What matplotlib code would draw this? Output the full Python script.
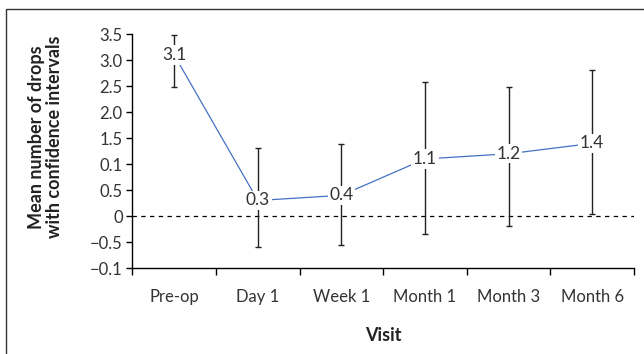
import matplotlib
matplotlib.use("Agg")
import matplotlib.pyplot as plt
from matplotlib.patches import Rectangle

plt.rcParams['font.family'] = ['Lato', 'DejaVu Sans']

visits = ["Pre-op", "Day 1", "Week 1", "Month 1", "Month 3", "Month 6"]
mean_drops = [3.1, 0.3, 0.4, 1.1, 1.2, 1.4]
ci_lower = [2.49, -0.60, -0.55, -0.34, -0.19, 0.04]
ci_upper = [3.49, 1.31, 1.39, 2.58, 2.48, 2.81]
mean_labels = ["3.1", "0.3", "0.4", "1.1", "1.2", "1.4"]

y_ticks = [3.5, 3.0, 2.5, 2.0, 1.5, 1.0, 0.5, 0.0, -0.5, -1.0]
y_tick_labels = ["3.5", "3.0", "2.5", "2.0", "1.5", "0.1", "0.5", "0", "\u22120.5", "\u22120.1"]

fig = plt.figure(figsize=(6.44, 3.54), dpi=100)
ax = fig.add_axes([0.2057, 0.2429, 0.7788, 0.6602])

x = list(range(len(visits)))
err_lo = [m - lo for m, lo in zip(mean_drops, ci_lower)]
err_hi = [hi - m for m, hi in zip(mean_drops, ci_upper)]

ax.axhline(0, color="black", lw=0.9, ls=(0, (3.5, 3.5)), zorder=1)
ax.plot(x, mean_drops, color="#4472C4", lw=0.9, zorder=2)
ax.errorbar(x, mean_drops, yerr=[err_lo, err_hi], fmt="none",
            ecolor="#222222", elinewidth=1.0, capsize=2.0, capthick=1.0, zorder=3)

for xi, m, lab in zip(x, mean_drops, mean_labels):
    ax.text(xi, m, lab, ha="center", va="center", fontsize=12.5, color="#333333",
            zorder=4, bbox=dict(boxstyle="square,pad=0.1", fc="white", ec="none"))

ax.set_xlim(-0.5, len(visits) - 0.5)
ax.set_ylim(-1.0, 3.5)
ax.set_yticks(y_ticks)
ax.set_yticklabels(y_tick_labels)
ax.set_xticks(x)
ax.set_xticklabels(visits)
ax.set_xticks([i - 0.5 for i in range(len(visits) + 1)], minor=True)
ax.tick_params(axis="x", which="major", length=0, pad=15, labelsize=12, labelcolor="#333333")
ax.tick_params(axis="x", which="minor", length=5, width=1.0)
ax.tick_params(axis="y", length=4, width=1.0, pad=3, labelsize=12, labelcolor="#333333")

for side in ("top", "right"):
    ax.spines[side].set_visible(False)
for side in ("left", "bottom"):
    ax.spines[side].set_linewidth(1.0)

ax.set_xlabel("Visit", fontsize=13, fontweight="bold", color="#222222", labelpad=16)
fig.text(0.071, 1 - 137 / 354, "Mean number of drops\nwith confidence intervals",
         rotation=90, ha="center", va="center", fontsize=13, fontweight="bold",
         color="#222222", linespacing=1.05)

# outer border, open at the bottom and right edges
fig.patches.append(Rectangle((6 / 644, -0.1), 1.2, 1.1 - 9 / 354, transform=fig.transFigure,
                             fill=False, ec="#333333", lw=1.0))

fig.savefig("out.png", dpi=100)
